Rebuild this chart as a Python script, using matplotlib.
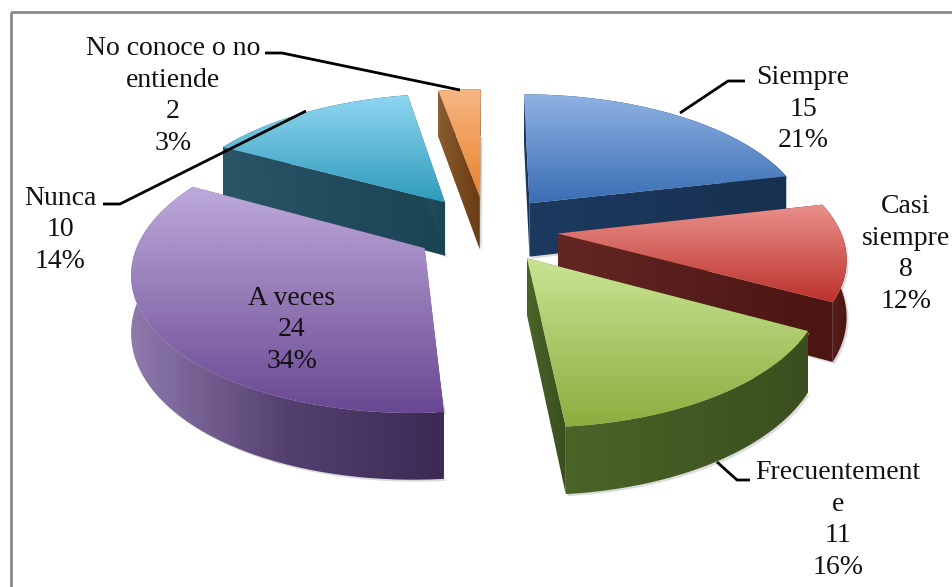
import numpy as np
import matplotlib

matplotlib.use("Agg")
import matplotlib.pyplot as plt
from matplotlib.colors import LinearSegmentedColormap
from matplotlib.patches import Polygon, Rectangle

# ── Data ─────────────────────────────────────────────────────────────────────

categories = ["Siempre", "Casi\nsiempre", "Frecuentement\ne", "A veces", "Nunca", "No conoce o no\nentiende"]
values = [15, 8, 11, 24, 10, 2]
percents = ["21%", "12%", "16%", "34%", "14%", "3%"]

top_colors = [("#8fb2e3", "#3a6eb4"), ("#ea908b", "#bd322c"), ("#c8e493", "#8cae3f"),
              ("#bda9da", "#6a4893"), ("#90d6f1", "#2f9cbc"), ("#f8b685", "#e8842c")]
wall_colors = [("#1c3a60", "#17304f"), ("#642623", "#4a1512"), ("#4a6428", "#3a4f1e"),
               ("#8e78ac", "#54406f", "#3c2a55"), ("#2a5566", "#1a4354"), ("#8a5a30", "#6a3c12")]

# ── Projection of the pie plane to the picture (pixels) ──────────────────────

CX, CY = 486, 229
RX, RY = 282, 133
EXPLODE = 0.255
PERSP = 0.154
DEPTH = 55


def project(u, w, drop=0.0):
    s = 1 / (1 - PERSP * w)
    return CX + RX * u * s, CY + RY * w * s + DEPTH * s * drop


def slice_points(t0, t1, drop=0.0, n=60):
    """Apex and rim of one exploded slice, angles clockwise from 12 o'clock."""
    mid = (t0 + t1) / 2
    eu, ew = EXPLODE * np.sin(mid), -EXPLODE * np.cos(mid)
    t = np.linspace(t0, t1, n)
    rim = project(eu + np.sin(t), ew - np.cos(t), drop)
    apex = project(eu, ew, drop)
    return np.array(apex), np.column_stack(rim)


def grad_fill(ax, pts, colors, vertical=True, zorder=1):
    """Polygon filled with a linear gradient, through a clipped image."""
    cmap = LinearSegmentedColormap.from_list("g", list(colors))
    ramp = np.linspace(0, 1, 64)
    img = ramp[:, None] if vertical else ramp[None, :]
    x0, y0 = pts.min(axis=0)
    x1, y1 = pts.max(axis=0)
    im = ax.imshow(img, cmap=cmap, extent=(x0, x1, y1, y0), aspect="auto",
                   origin="upper", interpolation="bilinear", zorder=zorder)
    poly = Polygon(pts, closed=True, fc="none", ec="none", transform=ax.transData)
    ax.add_patch(poly)
    im.set_clip_path(poly)


fig, ax = plt.subplots(figsize=(9.52, 5.87), dpi=100)
ax.set_position([0, 0, 1, 1])
ax.axis("off")

fracs = np.array(values) / sum(values)
edges = np.concatenate([[0], np.cumsum(fracs)]) * 2 * np.pi
mids = (edges[:-1] + edges[1:]) / 2

# far slices first so the nearer ones cover them
order = np.argsort(-np.cos(mids))
z = 2
for i in order:
    t0, t1 = edges[i], edges[i + 1]
    apex, rim = slice_points(t0, t1)
    apex_b, rim_b = slice_points(t0, t1, drop=1.0)

    # soft shadow under the walls
    shadow = np.vstack([rim_b, apex_b, rim]) + np.array([2, 2])
    ax.add_patch(Polygon(shadow, closed=True, fc="#b8b8b8", ec="none", alpha=0.5, zorder=z))
    z += 1

    for a, a_b, p, p_b in [(apex, apex_b, rim[0], rim_b[0]), (apex, apex_b, rim[-1], rim_b[-1])]:
        grad_fill(ax, np.array([a, p, p_b, a_b]), wall_colors[i], vertical=False, zorder=z)
        z += 1

    grad_fill(ax, np.vstack([rim, rim_b[::-1]]), wall_colors[i], vertical=False, zorder=z)
    z += 1
    grad_fill(ax, np.vstack([apex, rim]), top_colors[i], zorder=z)
    z += 1

ax.set_xlim(0, 952)
ax.set_ylim(587, 0)

# ── Frame, leader lines, labels ──────────────────────────────────────────────

ax.add_patch(Rectangle((11, 12), 960, 600, fc="none", ec="#8a8a8a", lw=2, zorder=z))
z += 1

leaders = [
    ([745, 728, 680], [81, 81, 113]),
    ([750, 737, 717], [480, 480, 462]),
    ([103, 120, 306], [204, 204, 111]),
    ([265, 282, 460], [53, 53, 90]),
]
for lx, ly in leaders:
    ax.plot(lx, ly, color="black", lw=2, zorder=z, solid_capstyle="butt")

label_pos = [(803, 109), (906, 254), (838, 520), (292, 330), (60, 230), (173, 96)]
for i, (lx, ly) in enumerate(label_pos):
    ax.text(lx, ly, f"{categories[i]}\n{values[i]}\n{percents[i]}", ha="center", va="center",
            family="Liberation Serif", fontsize=20, linespacing=1.34, color="#111111", zorder=z + 1)

fig.savefig("out.png", dpi=100)
